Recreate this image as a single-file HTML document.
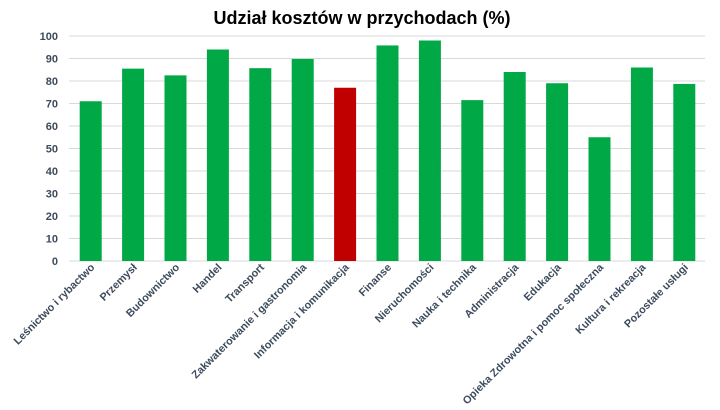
<!DOCTYPE html>
<html><head><meta charset="utf-8"><style>
body{margin:0;background:#fff;width:720px;height:405px;overflow:hidden}
svg{font-family:"Liberation Sans",sans-serif}
</style></head><body>
<svg id="c" width="720" height="405">
<text x="362" y="24" text-anchor="middle" font-size="18" font-weight="bold" fill="#000">Udział kosztów w przychodach (%)</text>
</svg>
<script>
const categories=["Leśnictwo i rybactwo","Przemysł","Budownictwo","Handel","Transport","Zakwaterowanie i gastronomia","Informacja i komunikacja","Finanse","Nieruchomości","Nauka i technika","Administracja","Edukacja","Opieka Zdrowotna i pomoc społeczna","Kultura i rekreacja","Pozostałe usługi"];
const values=[71,85.5,82.5,94,85.7,89.8,77,95.8,98,71.5,84,79,55,86,78.7];
const highlight=[false,false,false,false,false,false,true,false,false,false,false,false,false,false,false];
const yTicks=[0,10,20,30,40,50,60,70,80,90,100];
const NS="http://www.w3.org/2000/svg";
const svg=document.getElementById('c');
const x0=69,x1=705,yTop=36,yBot=261;
const y=v=>yBot-(v/100)*(yBot-yTop);
const bw=(x1-x0)/categories.length;
const xc=i=>x0+bw*(i+0.5);
function mk(t,a){const e=document.createElementNS(NS,t);for(const k in a)e.setAttribute(k,a[k]);svg.appendChild(e);return e;}
yTicks.forEach(t=>{
  const l=mk('line',{x1:x0,x2:x1,y1:y(t),y2:y(t),stroke:'#d9d9d9','stroke-width':1});
  
  
  const tx=mk('text',{x:58,y:y(t)+4,'text-anchor':'end','font-size':11,'font-weight':'bold',fill:'#3d4a5c'});
  tx.textContent=t;
  
  
});
values.forEach((v,i)=>{
  const r=mk('rect',{x:xc(i)-10.5,y:y(v),width:22,height:yBot-y(v),fill:highlight[i]?'#c00000':'#00a846'});
  
  
  const cx=xc(i)+5,cy=268;
  const t=mk('text',{x:cx,y:cy,'text-anchor':'end','font-size':10.8,'font-weight':'bold',fill:'#3d4a5c',transform:`rotate(-45 ${cx} ${cy})`});
  t.textContent=categories[i];
  
  
});
</script>
</body></html>
